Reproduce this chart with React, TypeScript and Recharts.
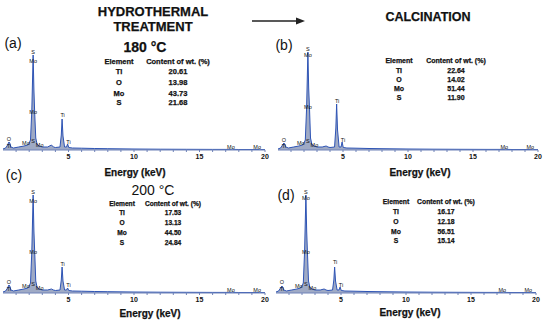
import React from 'react';
import { AreaChart, Area, XAxis, YAxis, ReferenceDot } from 'recharts';

// energy grid (keV) shared by the four spectra
const energy = [
  0, 0.2, 0.35, 0.45, 0.52, 0.6, 0.8, 1.2, 1.6, 1.9, 2.0, 2.1, 2.2, 2.3, 2.36, 2.42, 2.5, 2.6, 2.75,
  3.0, 3.4, 3.7, 3.85, 4.0, 4.35, 4.45, 4.51, 4.58, 4.7, 4.85, 4.93, 5.02, 5.3, 6, 7, 8, 10, 12, 14, 16,
  17.45, 17.5, 17.55, 18, 19.55, 19.6, 19.65, 20,
];

const countsA = [
  1, 2, 5, 8, 7, 3, 2, 3, 4, 5, 7, 10, 40, 95, 60, 37, 12, 6, 4,
  3, 3, 5, 3, 2.5, 3, 15, 31, 14, 3, 3, 6, 2.5, 2, 1.8, 1.5, 1.3, 1, 0.8, 0.7, 0.6,
  0.6, 1, 0.6, 0.5, 0.5, 0.8, 0.5, 0.4,
];
const countsB = [
  1, 2, 5, 7, 6, 3, 2, 3, 4, 5, 7, 10, 42, 98, 62, 43, 12, 6, 4,
  3, 3, 4, 3, 2.5, 3, 22, 46, 20, 3, 3, 8, 2.5, 2, 1.8, 1.5, 1.3, 1, 0.8, 0.7, 0.6,
  0.6, 1, 0.6, 0.5, 0.5, 0.8, 0.5, 0.4,
];
const countsC = [
  1, 2, 5, 8, 7, 3, 2, 3, 4, 5, 7, 10, 42, 98, 62, 41, 12, 6, 4,
  3, 3, 4, 3, 2.5, 3, 13, 26, 12, 3, 3, 5, 2.5, 2, 1.8, 1.5, 1.3, 1, 0.8, 0.7, 0.6,
  0.6, 1, 0.6, 0.5, 0.5, 0.8, 0.5, 0.4,
];
const countsD = [
  1, 2, 5, 7, 6, 3, 2, 3, 4, 5, 7, 10, 42, 98, 62, 40, 12, 6, 4,
  3, 3, 4, 3, 2.5, 3, 13, 26, 12, 3, 3, 6, 2.5, 2, 1.8, 1.5, 1.3, 1, 0.8, 0.7, 0.6,
  0.6, 1, 0.6, 0.5, 0.5, 0.8, 0.5, 0.4,
];

const xTicks = [1, 2, 3, 4, 5, 6, 7, 8, 9, 10, 11, 12, 13, 14, 15, 16, 17, 18, 19, 20];

// peak labels: [energy, height, text]
const labelsA: [number, number, string][] = [
  [2.3, 98, 'S'], [2.3, 89, 'Mo'], [2.3, 38, 'Mo'], [4.55, 35, 'Ti'], [5.0, 8, 'Ti'],
  [1.75, 7, 'Mo'], [2.3, 9, 'S'], [2.8, 5, 'Mo'], [0.45, 11, 'O'], [0.45, 4, 'Ti'],
  [17.4, 3, 'Mo'], [19.4, 3, 'Mo'],
];
const labelsB: [number, number, string][] = [
  [2.3, 101, 'S'], [2.3, 95, 'Mo'], [2.3, 43, 'Mo'], [4.55, 49, 'Ti'], [5.0, 10, 'Ti'],
  [1.75, 7, 'Mo'], [2.3, 9, 'S'], [2.8, 5, 'Mo'], [0.45, 10, 'O'], [0.45, 4, 'Ti'],
  [17.4, 3, 'Mo'], [19.4, 3, 'Mo'],
];
const labelsC: [number, number, string][] = [
  [2.3, 101, 'S'], [2.3, 92, 'Mo'], [2.3, 41, 'Mo'], [4.55, 29, 'Ti'], [5.0, 8, 'Ti'],
  [1.75, 7, 'Mo'], [2.3, 9, 'S'], [2.8, 5, 'Mo'], [0.45, 11, 'O'], [0.45, 4, 'Ti'],
  [17.4, 3, 'Mo'], [19.4, 3, 'Mo'],
];
const labelsD: [number, number, string][] = [
  [2.3, 101, 'S'], [2.3, 95, 'Mo'], [2.3, 41, 'Mo'], [4.55, 31, 'Ti'], [5.0, 8, 'Ti'],
  [1.75, 7, 'Mo'], [2.3, 9, 'S'], [2.8, 5, 'Mo'], [0.45, 11, 'O'], [0.45, 4, 'Ti'],
  [17.4, 3, 'Mo'], [19.4, 3, 'Mo'],
];

const elements = ['Ti', 'O', 'Mo', 'S'];
const wtA = ['20.61', '13.98', '43.73', '21.68'];
const wtB = ['22.64', '14.02', '51.44', '11.90'];
const wtC = ['17.53', '13.13', '44.50', '24.84'];
const wtD = ['16.17', '12.18', '56.51', '15.14'];

const FONT = '"Liberation Sans", Arial, sans-serif';

function Spectrum({ left, top, ml, plotW, counts, labels }: {
  left: number; top: number; ml: number; plotW: number; counts: number[]; labels: [number, number, string][];
}) {
  const data = energy.map((e, i) => ({ e, c: counts[i] }));
  return (
    <div style={{ position: 'absolute', left, top }}>
      <AreaChart width={ml + plotW + 8} height={130} data={data}
        margin={{ top: 10, right: 8, bottom: 0, left: ml }}>
        <XAxis dataKey="e" type="number" domain={[0, 20]} ticks={xTicks} height={20}
          stroke="#6f82b8" tickSize={2} interval={0}
          tickFormatter={(v: number) => (v % 5 === 0 ? String(v) : '')}
          tick={{ fontSize: 7, fontWeight: 'bold', fill: '#111', fontFamily: FONT }} />
        <YAxis hide domain={[0, 100]} allowDataOverflow />
        <Area dataKey="c" type="linear" stroke="#2e54b5" strokeWidth={1} fill="#8e9bbb"
          fillOpacity={0.85} isAnimationActive={false} baseValue={0} />
        {labels.map(([e, h, t], i) => (
          <ReferenceDot key={i} x={e} y={h} r={0} ifOverflow="visible"
            label={{ value: t, position: 'center', fontSize: 5.5, fill: '#111', fontFamily: FONT }} />
        ))}
      </AreaChart>
    </div>
  );
}

function Txt({ x, y, size, bold, children }: { x: number; y: number; size: number; bold?: boolean; children: React.ReactNode }) {
  return (
    <div style={{
      position: 'absolute', left: x, top: y, transform: 'translate(-50%, -50%)', whiteSpace: 'nowrap',
      fontFamily: FONT, fontSize: size, fontWeight: bold ? 'bold' : 'normal', color: '#111', lineHeight: 1,
      WebkitTextStroke: bold ? '0.25px #111' : undefined,
    }}>{children}</div>
  );
}

function Table({ ex, vx, hy, rows, size, values }: { ex: number; vx: number; hy: number; rows: number[]; size: number; values: string[] }) {
  return (
    <>
      <Txt x={ex} y={hy} size={size} bold>Element</Txt>
      <Txt x={vx} y={hy} size={size} bold>Content of wt. (%)</Txt>
      {elements.map((el, i) => (
        <React.Fragment key={el}>
          <Txt x={ex} y={rows[i]} size={size} bold>{el}</Txt>
          <Txt x={vx} y={rows[i]} size={size} bold>{values[i]}</Txt>
        </React.Fragment>
      ))}
    </>
  );
}

export default function App() {
  return (
    <div style={{ position: 'absolute', left: 0, top: 0, width: 550, height: 325, background: '#fff', overflow: 'hidden' }}>
      <Spectrum left={0} top={40} ml={3} plotW={262} counts={countsA} labels={labelsA} />
      <Spectrum left={275} top={40} ml={3} plotW={260} counts={countsB} labels={labelsB} />
      <Spectrum left={0} top={183} ml={3} plotW={262} counts={countsC} labels={labelsC} />
      <Spectrum left={275} top={183} ml={1} plotW={260} counts={countsD} labels={labelsD} />

      <Txt x={153} y={11} size={13} bold>HYDROTHERMAL</Txt>
      <Txt x={153} y={25.5} size={13} bold>TREATMENT</Txt>
      <Txt x={428} y={17} size={12.5} bold>CALCINATION</Txt>
      <svg style={{ position: 'absolute', left: 0, top: 0 }} width={550} height={40}>
        <line x1={252} y1={21} x2={298} y2={21} stroke="#222" strokeWidth={1.6} />
        <polygon points="305,21 296,17.5 296,24.5" fill="#222" />
      </svg>

      <Txt x={13} y={43} size={14}>(a)</Txt>
      <Txt x={284} y={45} size={14}>(b)</Txt>
      <Txt x={14} y={175} size={14}>(c)</Txt>
      <Txt x={286} y={195} size={14}>(d)</Txt>

      <Txt x={145} y={47} size={14} bold>180 °C</Txt>
      <Txt x={153} y={190} size={14}>200 °C</Txt>

      <Table ex={119} vx={178} hy={62} rows={[72, 83, 93.5, 102.5]} size={7.5} values={wtA} />
      <Table ex={399} vx={456} hy={60} rows={[70, 79, 88, 97]} size={7} values={wtB} />
      <Table ex={122} vx={173} hy={204} rows={[212.5, 222.5, 232.5, 243]} size={6.6} values={wtC} />
      <Table ex={396} vx={446} hy={202} rows={[211.5, 221.5, 231.5, 240.5]} size={6.8} values={wtD} />

      <Txt x={135} y={173} size={10} bold>Energy (keV)</Txt>
      <Txt x={420} y={173} size={10} bold>Energy (keV)</Txt>
      <Txt x={150} y={314} size={10} bold>Energy (keV)</Txt>
      <Txt x={410} y={313} size={10} bold>Energy (keV)</Txt>
    </div>
  );
}
